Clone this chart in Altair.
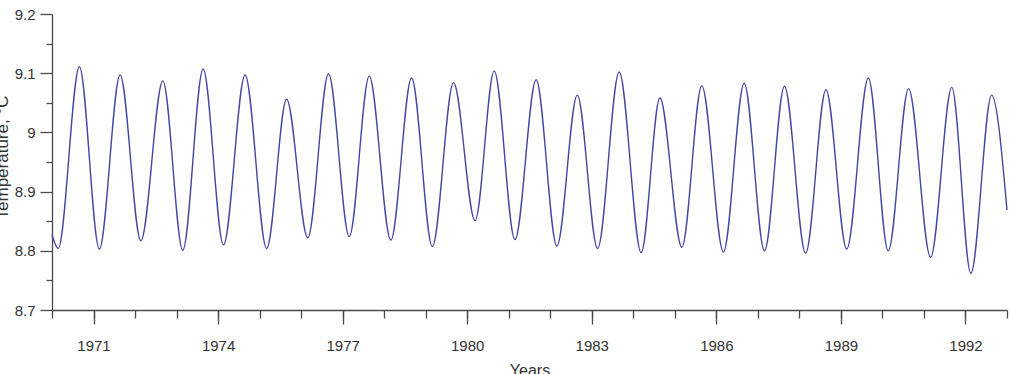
import altair as alt
import pandas as pd

# Alternating extrema of the temperature series
years = [1970.0, 1970.15, 1970.66, 1971.14, 1971.64, 1972.14, 1972.67, 1973.15, 1973.64,
         1974.13, 1974.65, 1975.17, 1975.65, 1976.16, 1976.66, 1977.16, 1977.64, 1978.16,
         1978.66, 1979.16, 1979.67, 1980.19, 1980.65, 1981.15, 1981.66, 1982.16, 1982.65,
         1983.14, 1983.66, 1984.19, 1984.64, 1985.17, 1985.65, 1986.17, 1986.67, 1987.16,
         1987.64, 1988.15, 1988.64, 1989.14, 1989.66, 1990.14, 1990.63, 1991.16, 1991.67,
         1992.13, 1992.63, 1993.0]
temps = [8.827, 8.804, 9.111, 8.803, 9.097, 8.817, 9.087, 8.801, 9.107, 8.810, 9.097,
         8.804, 9.056, 8.822, 9.099, 8.824, 9.095, 8.818, 9.092, 8.807, 9.084, 8.851,
         9.104, 8.819, 9.089, 8.808, 9.063, 8.804, 9.102, 8.797, 9.058, 8.806, 9.079,
         8.798, 9.083, 8.800, 9.078, 8.796, 9.072, 8.803, 9.092, 8.800, 9.074, 8.789,
         9.076, 8.762, 9.063, 8.869]

major_years = [1971, 1974, 1977, 1980, 1983, 1986, 1989, 1992]
minor_years = list(range(1970, 1994))
major_temps = [8.7, 8.8, 8.9, 9.0, 9.1, 9.2]
minor_temps = [8.75, 8.85, 8.95, 9.05, 9.15]

df = pd.DataFrame({"year": years, "temp": temps})

AX = "#4a4a4a"
TXT = "#333333"
FONT = "Liberation Sans"

xscale = alt.Scale(domain=[1970, 1993], nice=False, zero=False)
yscale = alt.Scale(domain=[8.7, 9.2], nice=False, zero=False)

line = alt.Chart(df).mark_line(
    color="#4545a2", strokeWidth=1.4, interpolate="monotone"
).encode(
    x=alt.X("year:Q", scale=xscale,
            axis=alt.Axis(values=major_years, format="d", title="Years", orient="bottom",
                          tickSize=14, tickWidth=1.3, tickColor=AX,
                          domainColor=AX, domainWidth=1.3, grid=False,
                          labelPadding=14, labelFontSize=15, labelColor=TXT, labelFont=FONT,
                          titleFontSize=16, titleFontWeight="normal", titleColor=TXT,
                          titleFont=FONT, titleY=52, titleBaseline="top")),
    y=alt.Y("temp:Q", scale=yscale,
            axis=alt.Axis(values=major_temps, format="~f", title="Temperature, °C", orient="left",
                          tickSize=12, tickWidth=1.3, tickColor=AX,
                          domainColor=AX, domainWidth=1.3, grid=False,
                          labelPadding=5, labelFontSize=15, labelColor=TXT, labelFont=FONT,
                          titleFontSize=17, titleFontWeight="normal", titleColor=TXT,
                          titleFont=FONT, titleAngle=270, titleX=-45, titleY=143,
                          titleBaseline="alphabetic", titleAlign="center")),
)

minor = alt.Chart(df).mark_line(opacity=0).encode(
    x=alt.X("year:Q", scale=xscale,
            axis=alt.Axis(values=minor_years, labels=False, title=None, orient="bottom",
                          tickSize=8, tickWidth=1.3, tickColor=AX, domain=False, grid=False)),
    y=alt.Y("temp:Q", scale=yscale,
            axis=alt.Axis(values=minor_temps, labels=False, title=None, orient="left",
                          tickSize=6, tickWidth=1.3, tickColor=AX, domain=False, grid=False)),
)

chart = alt.layer(minor, line).resolve_axis(
    x="independent", y="independent"
).properties(
    width=955, height=296,
    autosize=alt.AutoSizeParams(type="none"),
    padding={"left": 52, "top": 14, "right": 3, "bottom": 64},
    background="white",
).configure_view(stroke=None)

chart.save("out.html", embed_options={"renderer": "svg", "actions": False})
